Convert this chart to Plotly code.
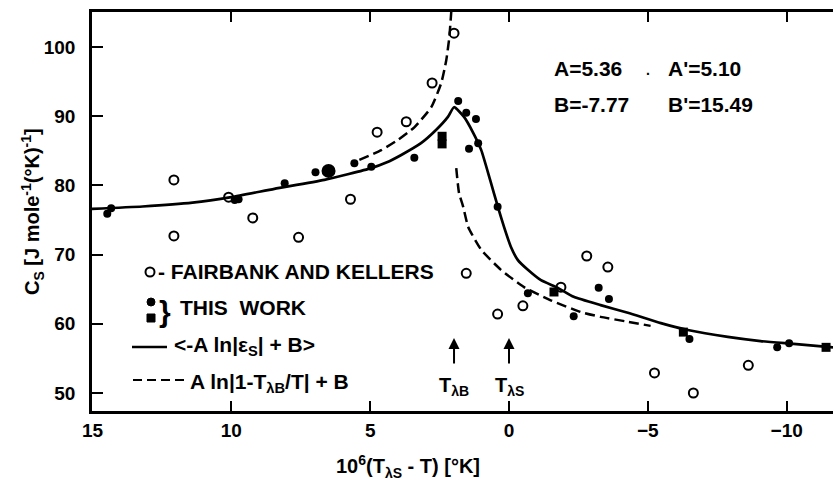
import plotly.graph_objects as go

# ---- data: 10^6 (T_lambdaS - T) [K] versus C_s [J mole^-1 K^-1] ----
# Fairbank and Kellers (open circles)
FK_X = [12.07, 12.07, 10.1, 9.23, 7.58, 5.71, 4.75, 3.7, 2.77, 1.98,
        1.54, 0.41, -0.5, -1.87, -2.8, -3.56, -5.24, -6.64, -8.62]
FK_Y = [80.8, 72.7, 78.3, 75.3, 72.5, 78.0, 87.7, 89.2, 94.8, 102.0,
        67.3, 61.4, 62.6, 65.3, 69.8, 68.2, 52.9, 50.0, 54.0]

# this work, circles
TW_X = [14.47, 14.33, 9.88, 9.74, 8.08, 6.97, 5.57, 4.96, 3.41, 1.83, 1.54,
        1.19, 1.44, 1.11, 0.41, -0.68, -2.33, -3.23, -3.6, -6.5, -9.66, -10.09]
TW_Y = [75.9, 76.7, 77.9, 78.0, 80.3, 81.9, 83.2, 82.7, 84.0, 92.2, 90.5,
        89.6, 85.3, 86.1, 76.9, 64.4, 61.1, 65.2, 63.6, 57.8, 56.6, 57.2]
# this work, heavy point
TW_BIG_X = [6.5]
TW_BIG_Y = [82.1]
# this work, squares
SQ_X = [2.41, 2.41, -1.62, -6.28, -11.42]
SQ_Y = [87.1, 86.0, 64.6, 58.8, 56.6]

# <-A ln|eps_s| + B>
SOLID_X = [15.02, 13.2, 11.4, 10.0, 8.45, 6.65, 4.96, 4.42, 3.88, 3.17, 2.63, 2.2,
           1.98, 1.62, 1.29, 1.0, 0.68, 0.40, 0.18, -0.07, -0.32, -0.68, -1.15,
           -1.76, -2.33, -3.3, -4.28, -5.47, -6.44, -7.88, -9.06, -10.25, -11.67]
SOLID_Y = [76.6, 76.95, 77.5, 78.3, 79.5, 80.8, 82.5, 83.3, 84.4, 86.1, 88.0, 89.9,
           91.3, 89.9, 87.6, 85.1, 80.8, 76.9, 74.0, 71.1, 69.2, 67.8, 66.3,
           65.2, 63.9, 62.7, 61.6, 60.1, 59.1, 58.1, 57.5, 57.1, 56.6]

# A ln|1 - T_lambdaB / T| + B, both sides of T_lambdaB
DASH_L_X = [5.39, 4.6, 3.99, 3.41, 2.8, 2.44, 2.26, 2.15, 2.08]
DASH_L_Y = [83.7, 85.1, 86.6, 88.4, 91.3, 94.8, 98.1, 101.4, 105.1]
DASH_R_X = [1.9, 1.8, 1.65, 1.47, 1.0, 0.29, -0.54, -1.5, -2.59, -3.3, -4.28, -5.1]
DASH_R_Y = [82.5, 78.9, 76.9, 74.0, 70.7, 67.8, 65.3, 63.4, 61.7, 61.0, 60.3, 59.7]

T_LAMBDA_B = 1.98
T_LAMBDA_S = 0.0

X_TICKS = [15, 10, 5, 0, -5, -10]
Y_TICKS = [50, 60, 70, 80, 90, 100]

FONT = "Liberation Sans"
INK = "black"

# plot-area geometry in pixels (used to place the text key and labels)
L, T, W, H = 92, 12, 741, 399


def fx(px):
    return (px - L) / W


def fy(py):
    return (T + H - py) / H


def font(size):
    return dict(family=FONT, size=size, color=INK, weight="bold")


fig = go.Figure()

fig.add_trace(go.Scatter(x=SOLID_X, y=SOLID_Y, mode="lines",
                         line=dict(color=INK, width=2.7, shape="spline", smoothing=0.5),
                         hoverinfo="skip"))
for xs, ys in ((DASH_L_X, DASH_L_Y), (DASH_R_X, DASH_R_Y)):
    fig.add_trace(go.Scatter(x=xs, y=ys, mode="lines",
                             line=dict(color=INK, width=2.5, dash="10px,5px",
                                       shape="spline", smoothing=0.5),
                             hoverinfo="skip"))

fig.add_trace(go.Scatter(x=FK_X, y=FK_Y, mode="markers",
                         marker=dict(symbol="circle-open", size=9, color=INK,
                                     line=dict(width=2, color=INK))))
fig.add_trace(go.Scatter(x=TW_X, y=TW_Y, mode="markers",
                         marker=dict(symbol="circle", size=8, color=INK)))
fig.add_trace(go.Scatter(x=TW_BIG_X, y=TW_BIG_Y, mode="markers",
                         marker=dict(symbol="circle", size=14, color=INK)))
fig.add_trace(go.Scatter(x=SQ_X, y=SQ_Y, mode="markers",
                         marker=dict(symbol="square", size=9, color=INK)))

axis_common = dict(showgrid=False, zeroline=False, ticks="inside", tickwidth=2,
                   tickcolor=INK, showline=True, linewidth=2.5, linecolor=INK,
                   tickfont=font(19))

fig.update_layout(
    width=833, height=483,
    margin=dict(l=L, r=0, t=T, b=483 - T - H),
    paper_bgcolor="white", plot_bgcolor="white",
    showlegend=False,
    xaxis=dict(range=[15.02, -11.67], tickvals=X_TICKS, ticklen=10,
               mirror="ticks", **axis_common),
    yaxis=dict(range=[47.4, 105.06], tickvals=Y_TICKS, ticklen=11,
               ticklabelstandoff=10, **axis_common),
    yaxis2=dict(overlaying="y", side="right", matches="y", tickvals=Y_TICKS,
                ticks="inside", ticklen=10, tickwidth=2, tickcolor=INK,
                showticklabels=False, showline=False, showgrid=False, zeroline=False),
)

ann = []


def text(px, py, s, size=18, anchor="left", **kw):
    ann.append(dict(xref="paper", yref="paper", x=fx(px), y=fy(py), text=s,
                    showarrow=False, xanchor=anchor, yanchor="middle",
                    font=font(size), **kw))


# axis titles
text(32, 212, "C<sub>S</sub> [J mole<sup>-1</sup>(°K)<sup>-1</sup>]", size=20,
     anchor="center", textangle=-90)
text(408, 466, "10<sup>6</sup>(T<sub>λS</sub> - T) [°K]", size=20, anchor="center")

# fit parameters
text(552, 68, "A=5.36", size=21)
text(644, 70, ".", size=14)
text(666, 68, "A'=5.10", size=21)
text(552, 104, "B=-7.77", size=21)
text(666, 104, "B'=15.49", size=21)

# key
text(156, 271, "- FAIRBANK AND KELLERS", size=21)
text(157, 311, "}", size=30)
text(178, 307, "THIS  WORK", size=21)
text(172, 346, "&lt;-A ln|ε<sub>S</sub>| + B&gt;", size=21)
text(188, 383, "A ln|1-T<sub>λB</sub>/T| + B", size=21)

# transition markers
for xv, lab in ((T_LAMBDA_B, "T<sub>λB</sub>"), (T_LAMBDA_S, "T<sub>λS</sub>")):
    ann.append(dict(xref="x", yref="paper", x=xv, y=fy(338), ax=0, ay=27,
                    showarrow=True, arrowhead=2, arrowsize=1.1, arrowwidth=2,
                    arrowcolor=INK, text=""))
    ann.append(dict(xref="x", yref="paper", x=xv, y=fy(386), text=lab,
                    showarrow=False, xanchor="center", yanchor="middle",
                    font=font(20)))

fig.update_layout(annotations=ann)

# key symbols
shapes = [
    dict(type="circle", xref="paper", yref="paper",
         x0=fx(145.5), x1=fx(154.5), y0=fy(276.5), y1=fy(267.5),
         line=dict(color=INK, width=2)),
    dict(type="circle", xref="paper", yref="paper",
         x0=fx(147), x1=fx(155), y0=fy(306), y1=fy(298),
         fillcolor=INK, line=dict(color=INK, width=1)),
    dict(type="rect", xref="paper", yref="paper",
         x0=fx(147), x1=fx(155), y0=fy(322), y1=fy(314),
         fillcolor=INK, line=dict(color=INK, width=1)),
    dict(type="line", xref="paper", yref="paper",
         x0=fx(132), x1=fx(167), y0=fy(347), y1=fy(347),
         line=dict(color=INK, width=2.5)),
    dict(type="line", xref="paper", yref="paper",
         x0=fx(133), x1=fx(185), y0=fy(380), y1=fy(380),
         line=dict(color=INK, width=2.2, dash="9px,5px")),
]
fig.update_layout(shapes=shapes)

fig.write_html("out.html")
